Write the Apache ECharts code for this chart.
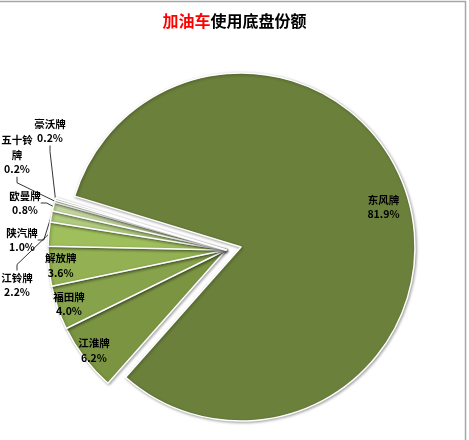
<!DOCTYPE html>
<html>
<head>
<meta charset="utf-8">
<script src="https://cdn.jsdelivr.net/npm/echarts@6/dist/echarts.min.js"></script>
<style>
html, body { margin: 0; padding: 0; background: #fff; }
#main { width: 469px; height: 440px; }
</style>
</head>
<body>
<div id="main"></div>
<script>
// 加油车 chassis share, percent
const brands = ['东风牌', '江淮牌', '福田牌', '解放牌', '江铃牌', '陕汽牌', '欧曼牌', '五十铃牌', '豪沃牌']
const shares = [81.9, 6.2, 4.0, 3.6, 2.2, 1.0, 0.8, 0.2, 0.2]
const colors = ['#6b803b', '#7a9442', '#86a24a', '#93b153', '#9fbf5c', '#b0ca7e', '#c3d6a0', '#d2e1b8', '#e0eacf']

// which slice is drawn big (exploded) and which labels sit inside
const bigOne = '东风牌'
const insideLabels = ['东风牌', '江淮牌', '福田牌', '解放牌']

// layout
const START = 163
const BIG_CENTER = [241, 247]
const BIG_R = 174
const SMALL_CENTER = [226, 250]
const SMALL_R = 178
// anchor of the outside labels (text block centre)
const outsideLabelPos = {
  '豪沃牌': [50, 131],
  '五十铃牌': [17, 155],
  '欧曼牌': [25, 203],
  '陕汽牌': [22, 240],
  '江铃牌': [17, 285]
}

function fmt(p) {
  let n = p.name
  if (n.length > 3) n = n.slice(0, 3) + '\n' + n.slice(3)
  return n + '\n' + Number(p.value).toFixed(1) + '%'
}

const labelFont = {
  fontFamily: 'Noto Sans CJK SC',
  fontSize: 10.5,
  fontWeight: 'bold',
  color: '#000',
  lineHeight: 14.5,
  overflow: 'none'
}

const none = 'rgba(0,0,0,0)'
const slice = {
  borderColor: '#fff',
  borderWidth: 1.5,
  shadowBlur: 3,
  shadowColor: 'rgba(0,0,0,0.35)',
  shadowOffsetX: 1,
  shadowOffsetY: 1
}

function makeData(visible, withLabel) {
  return brands.map((b, i) => ({
    name: b,
    value: shares[i],
    itemStyle: visible(b) ? { color: colors[i] } : { color: none, borderWidth: 0, shadowBlur: 0, shadowColor: none },
    label: { show: withLabel(b) },
    labelLine: { show: withLabel(b) }
  }))
}

const base = {
  type: 'pie',
  startAngle: START,
  clockwise: true,
  animation: false,
  emphasis: { disabled: true },
  tooltip: { show: false }
}

const chart = echarts.init(document.getElementById('main'))
chart.setOption({
  animation: false,
  title: {
    text: '{r|加油车}{k|使用底盘份额}',
    left: 'center',
    top: 8,
    textStyle: {
      rich: {
        r: { color: '#ff0000', fontSize: 16, fontWeight: 'bold', fontFamily: 'Noto Sans CJK SC' },
        k: { color: '#000', fontSize: 16, fontWeight: 'bold', fontFamily: 'Noto Sans CJK SC' }
      }
    }
  },
  graphic: [
    { type: 'line', shape: { x1: 0, y1: 1.5, x2: 466, y2: 1.5 }, style: { stroke: '#a6a6a6', lineWidth: 1.5 } },
    { type: 'line', shape: { x1: 465.5, y1: 1, x2: 465.5, y2: 440 }, style: { stroke: '#a6a6a6', lineWidth: 1.5 } }
  ],
  series: [
    // the big slice
    Object.assign({}, base, {
      center: BIG_CENTER,
      radius: BIG_R,
      itemStyle: slice,
      label: { show: false },
      data: makeData(b => b === bigOne, () => false)
    }),
    // the small slices, with outside labels
    Object.assign({}, base, {
      center: SMALL_CENTER,
      radius: SMALL_R,
      itemStyle: slice,
      label: Object.assign({ position: 'outside', formatter: fmt, align: 'center' }, labelFont),
      labelLine: { length: 6, length2: 6, lineStyle: { color: '#000', width: 0.8 } },
      labelLayout: function (p) {
        const pos = outsideLabelPos[brands[p.dataIndex]]
        if (!pos) return {}
        return { x: pos[0], y: pos[1], align: 'center', verticalAlign: 'middle' }
      },
      data: makeData(b => b !== bigOne, b => insideLabels.indexOf(b) < 0 && b !== bigOne)
    }),
    // inside labels of the small slices
    Object.assign({}, base, {
      center: SMALL_CENTER,
      radius: [148, SMALL_R],
      silent: true,
      itemStyle: { color: none, borderWidth: 0 },
      label: Object.assign({ position: 'inside', formatter: fmt }, labelFont),
      labelLine: { show: false },
      data: makeData(() => false, b => insideLabels.indexOf(b) >= 0 && b !== bigOne)
    }),
    // inside label of the big slice
    Object.assign({}, base, {
      center: BIG_CENTER,
      radius: [116, BIG_R],
      silent: true,
      itemStyle: { color: none, borderWidth: 0 },
      label: Object.assign({ position: 'inside', formatter: fmt }, labelFont),
      labelLine: { show: false },
      data: makeData(() => false, b => b === bigOne)
    })
  ]
})
</script>
</body>
</html>
